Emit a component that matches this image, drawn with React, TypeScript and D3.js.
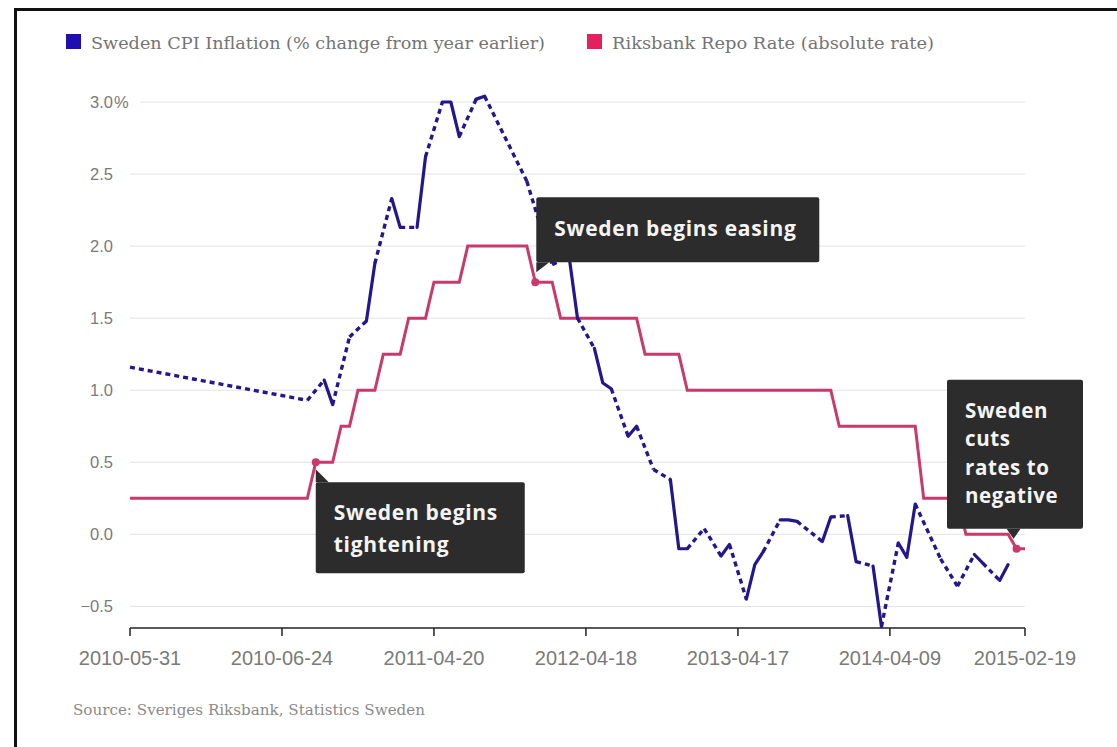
import React from "react";
import * as d3 from "d3";

// ---- Data (rows of the shared ordinal x axis) ----
const cpiInflation: (number | null)[] = [
  1.16, null, null, null, null, null, null, null, null, null,
  null, null, null, null, null, null, null, null, null, null,
  null, 0.93, null, 1.07, 0.90, null, 1.37, null, 1.48, 1.88,
  null, 2.33, 2.13, null, 2.13, 2.62, null, 3.00, 3.00, 2.76,
  null, 3.02, 3.04, null, null, null, null, 2.45, null, null,
  1.87, null, 1.93, 1.50, null, 1.29, 1.05, 1.01, null, 0.68,
  0.75, null, 0.45, null, 0.38, -0.10, -0.10, null, 0.04, null,
  -0.15, -0.07, null, -0.45, -0.21, -0.12, null, 0.10, 0.10, 0.09,
  null, null, -0.05, 0.12, null, 0.13, -0.19, null, -0.22, -0.64,
  null, -0.06, -0.16, 0.21, null, null, -0.17, null, -0.36, null,
  -0.14, -0.20, null, -0.32, -0.21, null, null,
];

const repoRate: number[] = [
  0.25, 0.25, 0.25, 0.25, 0.25, 0.25, 0.25, 0.25, 0.25, 0.25,
  0.25, 0.25, 0.25, 0.25, 0.25, 0.25, 0.25, 0.25, 0.25, 0.25,
  0.25, 0.25, 0.5, 0.5, 0.5, 0.75, 0.75, 1.0, 1.0, 1.0,
  1.25, 1.25, 1.25, 1.5, 1.5, 1.5, 1.75, 1.75, 1.75, 1.75,
  2.0, 2.0, 2.0, 2.0, 2.0, 2.0, 2.0, 2.0, 1.75, 1.75,
  1.75, 1.5, 1.5, 1.5, 1.5, 1.5, 1.5, 1.5, 1.5, 1.5,
  1.5, 1.25, 1.25, 1.25, 1.25, 1.25, 1.0, 1.0, 1.0, 1.0,
  1.0, 1.0, 1.0, 1.0, 1.0, 1.0, 1.0, 1.0, 1.0, 1.0,
  1.0, 1.0, 1.0, 1.0, 0.75, 0.75, 0.75, 0.75, 0.75, 0.75,
  0.75, 0.75, 0.75, 0.75, 0.25, 0.25, 0.25, 0.25, 0.25, 0.0,
  0.0, 0.0, 0.0, 0.0, 0.0, -0.1, -0.1,
];

const xTickRows = [0, 18, 36, 54, 72, 90, 106];
const xTickLabels = ["2010-05-31", "2010-06-24", "2011-04-20", "2012-04-18", "2013-04-17", "2014-04-09", "2015-02-19"];
const yTicks = [-0.5, 0, 0.5, 1.0, 1.5, 2.0, 2.5, 3.0];

const seriesNames = ["Sweden CPI Inflation (% change from year earlier)", "Riksbank Repo Rate (absolute rate)"];

const annotations = [
  { row: 22, lines: ["Sweden begins", "tightening"] },
  { row: 48, lines: ["Sweden begins easing"] },
  { row: 105, lines: ["Sweden", "cuts", "rates to", "negative"] },
];

const source = "Source: Sveriges Riksbank, Statistics Sweden";

const CPI_COLOR = "#24178c";
const REPO_COLOR = "#c83a6c";
const CPI_KEY = "#1f0fb0";
const REPO_KEY = "#e4215e";
const BOX = "#2c2c2c";

export default function App() {
  const W = 1117, H = 747;
  const rows = d3.range(repoRate.length);
  const x = d3.scalePoint<number>().domain(rows).range([130, 1025]);
  const y = d3.scaleLinear().domain([-0.65, 3.0]).range([628, 102]);

  const line = d3.line<[number, number]>().x(d => x(d[0])!).y(d => y(d[1]));

  const repoPath = line(rows.map(i => [i, repoRate[i]] as [number, number]))!;

  // CPI: solid between adjacent rows, dashed where rows without a reading are bridged
  const defined = rows.filter(i => cpiInflation[i] !== null);
  const solidRuns: [number, number][][] = [];
  const dashed: [number, number][][] = [];
  let run: [number, number][] = [];
  for (let k = 0; k < defined.length - 1; k++) {
    const a = defined[k], b = defined[k + 1];
    const pa: [number, number] = [a, cpiInflation[a] as number];
    const pb: [number, number] = [b, cpiInflation[b] as number];
    if (b - a === 1) {
      if (run.length === 0) run.push(pa);
      run.push(pb);
    } else {
      if (run.length) solidRuns.push(run);
      run = [];
      dashed.push([pa, pb]);
    }
  }
  if (run.length) solidRuns.push(run);

  const sans = "'Liberation Sans', Arial, sans-serif";
  const serif = "'DejaVu Serif', 'Liberation Serif', serif";
  const bold = "'Open Sans', 'DejaVu Sans', sans-serif";

  const a0 = { px: x(annotations[0].row)!, py: y(repoRate[annotations[0].row]) };
  const a1 = { px: x(annotations[1].row)!, py: y(repoRate[annotations[1].row]) };
  const a2 = { px: x(annotations[2].row)!, py: y(repoRate[annotations[2].row]) };

  return (
    <div style={{ position: "absolute", left: 0, top: 0 }}>
      <svg width={W} height={H} style={{ display: "block", background: "#fff" }}>
        <rect x={0} y={0} width={W} height={H} fill="#fff" />
        {/* frame */}
        <path d={`M15.5,${H + 5} L15.5,9.5 L${W + 5},9.5`} fill="none" stroke="#111" strokeWidth={3} />

        {/* legend */}
        <rect x={66} y={34} width={15} height={15} fill={CPI_KEY} />
        <text x={91} y={49} fontFamily={serif} fontSize={17} fill="#747474" textLength={454} lengthAdjust="spacingAndGlyphs">{seriesNames[0]}</text>
        <rect x={587} y={34} width={15} height={15} fill={REPO_KEY} />
        <text x={612} y={49} fontFamily={serif} fontSize={17} fill="#747474" textLength={322} lengthAdjust="spacingAndGlyphs">{seriesNames[1]}</text>

        {/* grid + y labels */}
        {yTicks.map(t => (
          <g key={t}>
            <line x1={t === 3 ? 140 : 130} x2={1025} y1={y(t)} y2={y(t)} stroke="#e2e2e2" strokeWidth={1} />
            <text x={113} y={y(t) + 6} textAnchor="end" fontFamily={sans} fontSize={16.5} fill="#7a7a7a">
              {d3.format(".1f")(t)}
            </text>
            {t === 3 && (
              <text x={114} y={y(t) + 6} fontFamily={sans} fontSize={16.5} fill="#7a7a7a">%</text>
            )}
          </g>
        ))}

        {/* x axis */}
        <line x1={130} x2={1025} y1={628} y2={628} stroke="#222" strokeWidth={1.5} />
        {xTickRows.map((r, k) => (
          <g key={r} transform={`translate(${x(r)},628)`}>
            <line y1={0} y2={8} stroke="#222" strokeWidth={1.5} />
            <text y={37} textAnchor="middle" fontFamily={sans} fontSize={20} fill="#7a7a7a">{xTickLabels[k]}</text>
          </g>
        ))}

        {/* repo line */}
        <path d={repoPath} fill="none" stroke={REPO_COLOR} strokeWidth={3} strokeLinejoin="miter" />

        {/* CPI line */}
        {dashed.map((seg, k) => (
          <path key={"d" + k} d={line(seg)!} fill="none" stroke={CPI_COLOR} strokeWidth={3.4} strokeDasharray="5 4" />
        ))}
        {solidRuns.map((seg, k) => (
          <path key={"s" + k} d={line(seg)!} fill="none" stroke={CPI_COLOR} strokeWidth={3.2} strokeLinejoin="round" strokeLinecap="round" />
        ))}

        {/* annotation 1: tightening */}
        <path d={`M${a0.px},${a0.py + 7} L${a0.px},${a0.py + 20} L${a0.px + 13},${a0.py + 20} Z`} fill={BOX} />
        <rect x={a0.px} y={a0.py + 20} width={209} height={91} rx={2} fill={BOX} />
        {annotations[0].lines.map((l, k) => (
          <text key={k} x={a0.px + 18} y={a0.py + 58 + k * 32} fontFamily={bold} fontWeight={700} fontSize={21} letterSpacing={0.7} fill="#f4f4f4">{l}</text>
        ))}

        {/* annotation 2: easing */}
        <path d={`M${a1.px + 1},${a1.py - 20} L${a1.px + 14},${a1.py - 20} L${a1.px + 1},${a1.py - 10} Z`} fill={BOX} />
        <rect x={a1.px + 1} y={a1.py - 85} width={283} height={65} rx={2} fill={BOX} />
        <text x={a1.px + 19} y={a1.py - 46} fontFamily={bold} fontWeight={700} fontSize={21} letterSpacing={0.7} fill="#f4f4f4">{annotations[1].lines[0]}</text>

        {/* annotation 3: negative */}
        <path d={`M${a2.px - 10},${a2.py - 20} L${a2.px + 4},${a2.py - 20} L${a2.px - 3},${a2.py - 10} Z`} fill={BOX} />
        <rect x={947} y={a2.py - 169} width={136} height={149} rx={2} fill={BOX} />
        {annotations[2].lines.map((l, k) => (
          <text key={k} x={965} y={a2.py - 131 + k * 28.5} fontFamily={bold} fontWeight={700} fontSize={20.5} letterSpacing={0.6} fill="#f4f4f4">{l}</text>
        ))}

        {/* markers */}
        {annotations.map((a, k) => (
          <circle key={k} cx={x(a.row)!} cy={y(repoRate[a.row])} r={4} fill={REPO_COLOR} />
        ))}

        {/* source */}
        <text x={73} y={715} fontFamily={serif} fontSize={14.5} fill="#8a8a8a" textLength={352} lengthAdjust="spacingAndGlyphs">{source}</text>
      </svg>
    </div>
  );
}
